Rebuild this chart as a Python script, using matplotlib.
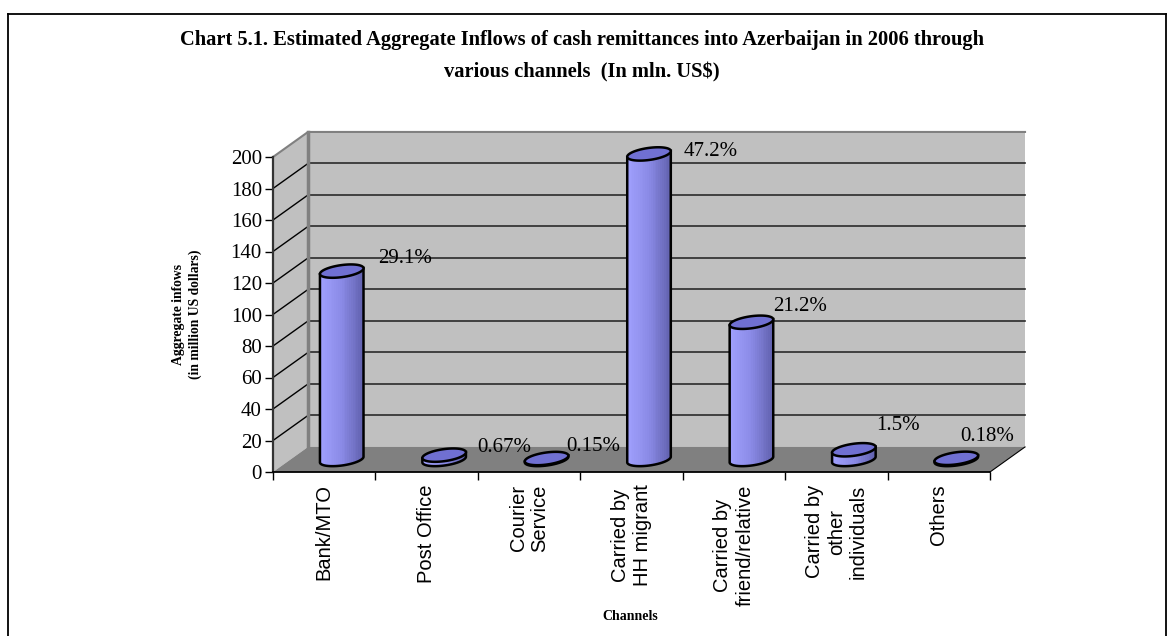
import numpy as np
import matplotlib
matplotlib.use("Agg")
import matplotlib.pyplot as plt
from matplotlib.patches import Polygon, Rectangle, PathPatch
from matplotlib.path import Path
from matplotlib.collections import PatchCollection
from matplotlib.lines import Line2D
import matplotlib.transforms as mtransforms
import matplotlib.colors as mcolors


# data: share of each channel (%) and total inflows (mln US$)
channels = ["Bank/MTO", "Post Office", "Courier\nService", "Carried by\nHH migrant",
            "Carried by\nfriend/relative", "Carried by\nother\nindividuals", "Others"]
shares = [29.1, 0.67, 0.15, 47.2, 21.2, 1.5, 0.18]
total_inflows = 411.0
values = [s * total_inflows / 100 for s in shares]
yticks = list(range(0, 201, 20))

# label offsets from the top of each cylinder, in pixels (right, up)
label_offsets = [(63, 13), (60, 8), (47, 12), (62, 2), (49, 16), (44, 24), (31, 22)]

SERIF = "Liberation Serif"
SANS = "Liberation Sans"
W, H = 1172, 636
DX, DY = 0.342, 15.9        # depth of the 3d box in data units
RX, RY, TILT = 22, 6, np.deg2rad(8)   # cylinder ellipse in pixels

fig = plt.figure(figsize=(W / 100, H / 100), dpi=100)
fig.patch.set_facecolor("white")

# page frame
for xs, ys in [([8, 1166], [14, 14]), ([8, 8], [14, H]), ([1166, 1166], [14, H])]:
    fig.add_artist(Line2D([x / W for x in xs], [1 - y / H for y in ys],
                          transform=fig.transFigure, color="black", lw=1.3))

fig.text(582 / W, 1 - 40 / H,
         "Chart 5.1. Estimated Aggregate Inflows of cash remittances into Azerbaijan in 2006 through",
         ha="center", va="center", fontsize=14.8, weight="bold", family=SERIF)
fig.text(582 / W, 1 - 72 / H, "various channels  (In mln. US$)",
         ha="center", va="center", fontsize=14.8, weight="bold", family=SERIF)

ax = fig.add_axes([273 / W, 1 - 472 / H, 717 / W, 315 / H])
ax.set_xlim(-0.5, 6.5)
ax.set_ylim(0, 200)
ax.patch.set_visible(False)

# walls and floor
x0, x1 = -0.5, 6.5
ax.add_patch(Polygon([(x0, 0), (x0, 200), (x0 + DX, 200 + DY), (x0 + DX, DY)],
                     fc="#c0c0c0", ec="none", zorder=0, clip_on=False))
ax.add_patch(Polygon([(x0 + DX, DY), (x1 + DX, DY), (x1 + DX, 200 + DY), (x0 + DX, 200 + DY)],
                     fc="#c0c0c0", ec="none", zorder=0, clip_on=False))
ax.add_patch(Polygon([(x0, 0), (x1, 0), (x1 + DX, DY), (x0 + DX, DY)],
                     fc="#808080", ec="none", zorder=0.3, clip_on=False))
for v in yticks[1:-1]:
    ax.plot([x0 + DX, x1 + DX], [v + DY, v + DY], color="#2a2a2a", lw=1.2, zorder=0.5, clip_on=False)
    ax.plot([x0, x0 + DX], [v, v + DY], color="black", lw=1.0, zorder=0.5, clip_on=False)
ax.plot([x0, x0 + DX, x1 + DX], [200, 200 + DY, 200 + DY], color="#808080", lw=1.5, zorder=0.5, clip_on=False)
ax.plot([x0 + DX, x0 + DX], [DY, 200 + DY], color="#808080", lw=2.5, zorder=0.6, clip_on=False)
ax.plot([x1, x1 + DX], [0, DY], color="black", lw=0.8, zorder=0.6, clip_on=False)

for side in ["top", "right"]:
    ax.spines[side].set_visible(False)
ax.spines["left"].set_color("#333333")
ax.spines["left"].set_linewidth(1.6)
ax.spines["bottom"].set_linewidth(1.3)

ax.set_yticks(yticks)
ax.set_yticklabels([str(t) for t in yticks], fontsize=15, family=SERIF)
ax.tick_params(axis="y", direction="out", length=6, width=1, pad=2)
ax.set_xticks(np.arange(-0.5, 7, 1))
ax.set_xticklabels([])
ax.tick_params(axis="x", which="major", direction="out", length=6, width=1)
ax.set_xticks(range(len(channels)), minor=True)
ax.set_xticklabels(channels, minor=True, rotation=90, fontsize=14.5, family=SANS,
                   multialignment="center")
ax.tick_params(axis="x", which="minor", length=0, pad=9)

fig.text(187 / W, 1 - 314 / H, "Aggregate infows\n(in million US dollars)", rotation=90,
         ha="center", va="center", fontsize=9.8, weight="bold", family=SERIF, linespacing=1.25)
fig.text(630 / W, 1 - 617 / H, "Channels", ha="center", va="center",
         fontsize=10, weight="bold", family=SERIF)

ident = mtransforms.IdentityTransform()
shade = mcolors.LinearSegmentedColormap.from_list("cyl", ["#a2a2ff", "#8a8ae6", "#5e5eaa"])


def ellipse_pts(cx, cy, t):
    ex = RX * np.cos(t) * np.cos(TILT) - RY * np.sin(t) * np.sin(TILT)
    ey = RX * np.cos(t) * np.sin(TILT) + RY * np.sin(t) * np.cos(TILT)
    return np.column_stack([cx + ex, cy + ey])


def draw_cylinder(xc, v):
    bx, by = ax.transData.transform((xc, DY / 2))
    tx, ty = ax.transData.transform((xc, v + DY / 2))
    lo = ellipse_pts(bx, by, np.linspace(np.pi, 2 * np.pi, 60))
    left = ellipse_pts(tx, ty, np.array([np.pi]))
    right = ellipse_pts(tx, ty, np.array([0.0]))
    verts = np.vstack([left, lo, right, left])
    body = PathPatch(Path(verts, closed=True), fc="none", ec="black", lw=1.8,
                     transform=ident, zorder=3.2, clip_on=False)
    ax.add_patch(body)
    n = 26
    xs = np.linspace(bx - RX - 2, bx + RX + 2, n + 1)
    rects = [Rectangle((xs[i], by - 30), xs[i + 1] - xs[i], ty - by + 60) for i in range(n)]
    strips = PatchCollection(rects, facecolors=[shade(i / (n - 1)) for i in range(n)],
                             edgecolors="none", transform=ident, zorder=3.1)
    ax.add_collection(strips, autolim=False)
    strips.set_clip_box(fig.bbox)
    strips.set_clip_path(body)
    top = Polygon(ellipse_pts(tx, ty, np.linspace(0, 2 * np.pi, 80)), closed=True,
                  fc="#7070d2", ec="black", lw=1.8, transform=ident, zorder=3.3, clip_on=False)
    ax.add_patch(top)


for i, (v, s) in enumerate(zip(values, shares)):
    xc = i + DX / 2
    draw_cylinder(xc, v)
    ox, oy = label_offsets[i]
    ax.annotate(f"{s:g}%", xy=(xc, v + DY / 2), xytext=(ox * 0.72, oy * 0.72),
                textcoords="offset points", ha="center", va="center",
                fontsize=15, family=SERIF, zorder=4, annotation_clip=False)

ax.set_xlim(-0.5, 6.5)
ax.set_ylim(0, 200)

fig.savefig("out.png", dpi=100)
